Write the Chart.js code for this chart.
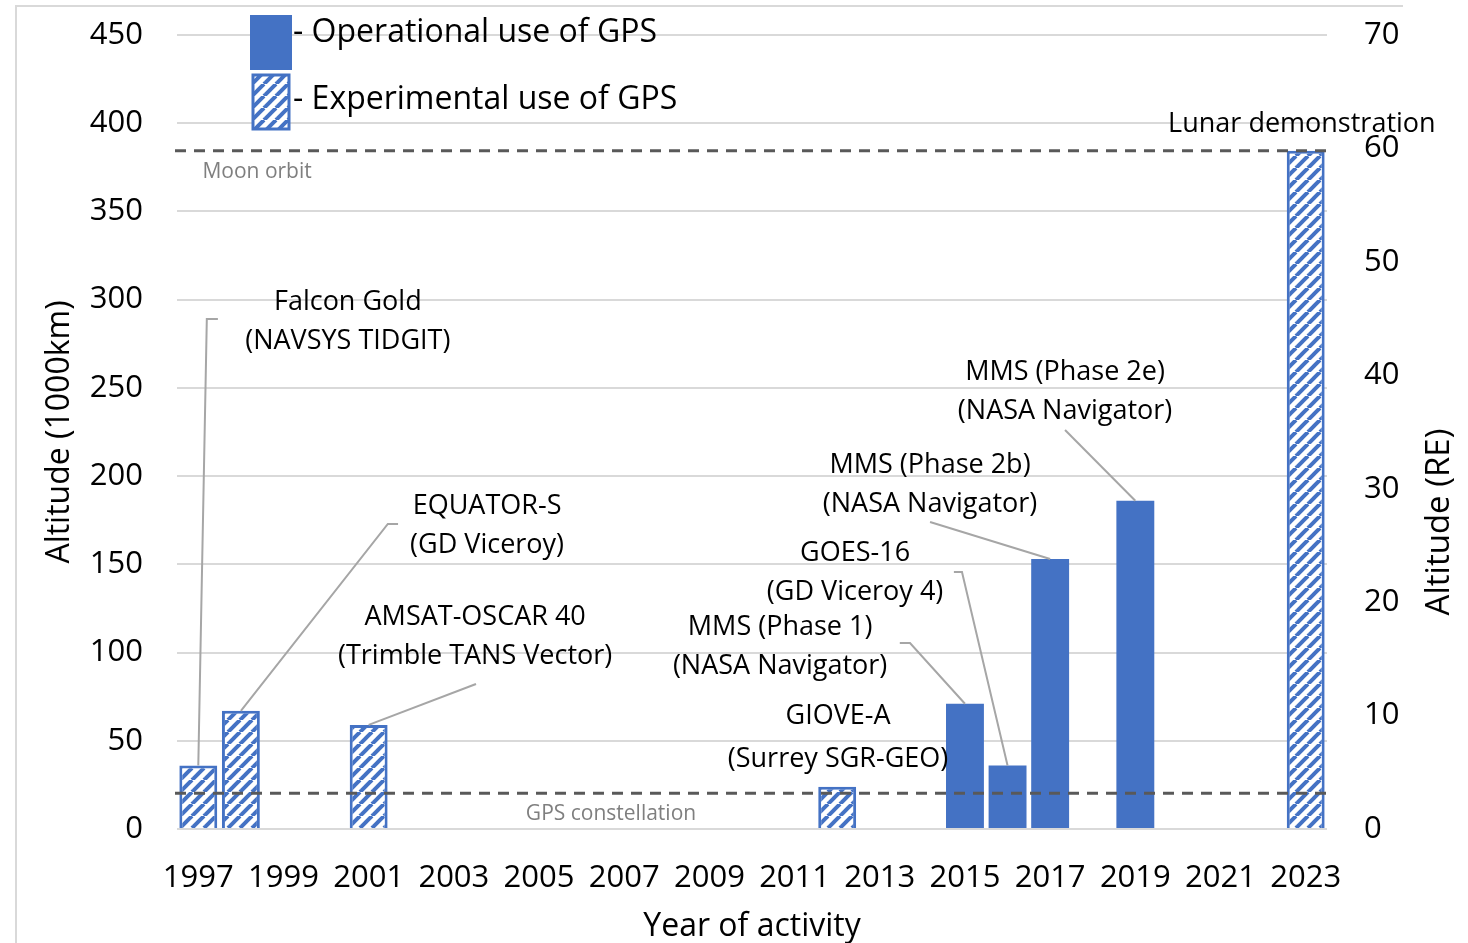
<!DOCTYPE html>
<html>
<head>
<meta charset="utf-8">
<script src="https://cdn.jsdelivr.net/npm/chart.js@4.4.1/dist/chart.umd.min.js"></script>
<style>
  body { margin: 0; background: #fff; }
  canvas { display: block; }
</style>
</head>
<body>
<canvas id="myChart" width="1468" height="943"></canvas>
<script>
const years = [
  '1997', '1998', '1999', '2000', '2001', '2002', '2003', '2004', '2005',
  '2006', '2007', '2008', '2009', '2010', '2011', '2012', '2013', '2014',
  '2015', '2016', '2017', '2018', '2019', '2020', '2021', '2022', '2023'
]

// altitude in 1000 km
const operational = [
  null, null, null, null, null, null, null, null, null,
  null, null, null, null, null, null, null, null, null,
  71, 36, 153, null, 186, null, null, null, null
]
const experimental = [
  36, 67, null, null, 59, null, null, null, null,
  null, null, null, null, null, null, 24, null, null,
  null, null, null, null, null, null, null, null, 384.4
]

const leftTicks = [0, 50, 100, 150, 200, 250, 300, 350, 400, 450]
const rightTicks = [0, 10, 20, 30, 40, 50, 60, 70]

const moonOrbit = 384.4
const gpsConstellation = 20.2

// labels: [category index, altitude]; leader goes through path then to the bar top
const notes = [
  { text: ['Falcon Gold', '(NAVSYS TIDGIT)'], at: [3.51, 298.7], path: [[0.46, 289], [0.2, 289]], bar: 0 },
  { text: ['EQUATOR-S', '(GD Viceroy)'], at: [6.78, 183.1], path: [[4.69, 172.9], [4.45, 172.9]], bar: 1 },
  { text: ['AMSAT-OSCAR 40', '(Trimble TANS Vector)'], at: [6.5, 120.2], path: [[6.52, 82.2]], bar: 4 },
  { text: ['GIOVE-A', '(Surrey SGR-GEO)'], at: [15.02, 64], gap: 43 },
  { text: ['MMS (Phase 1)', '(NASA Navigator)'], at: [13.66, 114.5], path: [[16.47, 105.4], [16.71, 105.4]], bar: 18 },
  { text: ['GOES-16', '(GD Viceroy 4)'], at: [15.42, 156.4], path: [[17.74, 145.7], [17.93, 145.7]], bar: 19 },
  { text: ['MMS (Phase 2b)', '(NASA Navigator)'], at: [17.18, 206.3], path: [[17.18, 174]], bar: 20 },
  { text: ['MMS (Phase 2e)', '(NASA Navigator)'], at: [20.35, 259], path: [[20.35, 226.1]], bar: 22 },
  { text: ['Lunar demonstration'], at: [25.91, 399.6] },
  { text: ['Moon orbit'], at: [1.38, 372.4], small: true },
  { text: ['GPS constellation'], at: [9.69, 8.5], small: true }
]

const blue = '#4472C4'
const font = "'Open Sans', sans-serif"

function makeHatch() {
  const s = 12
  const c = document.createElement('canvas')
  c.width = s
  c.height = s
  const g = c.getContext('2d')
  g.fillStyle = '#fff'
  g.fillRect(0, 0, s, s)
  g.strokeStyle = blue
  g.lineWidth = 4
  for (let k = -1; k <= 1; k++) {
    g.beginPath()
    g.moveTo(k * s, s)
    g.lineTo(k * s + s, 0)
    g.stroke()
  }
  return g.createPattern(c, 'repeat')
}

const ctx = document.getElementById('myChart')
const hatch = makeHatch()

// keep the plot top where the reference has it (no extra room for the top tick label)
function fixVertical(width) {
  return (s) => {
    s.width = width
    s.paddingTop = 0
    s.paddingBottom = 0
  }
}

const extras = {
  id: 'extras',
  beforeDraw(chart) {
    const c = chart.ctx
    // chart area frame (left and top edges only)
    c.save()
    c.strokeStyle = '#d9d9d9'
    c.lineWidth = 2
    c.beginPath()
    c.moveTo(16, 943)
    c.lineTo(16, 6)
    c.lineTo(1403, 6)
    c.stroke()
    c.restore()
  },
  afterDatasetsDraw(chart) {
    const c = chart.ctx
    const y = chart.scales.y
    const area = chart.chartArea
    c.save()
    c.strokeStyle = '#595959'
    c.lineWidth = 3
    c.setLineDash([11, 8])
    ;[moonOrbit, gpsConstellation].forEach((v) => {
      const py = y.getPixelForValue(v)
      c.beginPath()
      c.moveTo(area.left - 2, py)
      c.lineTo(area.right, py)
      c.stroke()
    })
    c.restore()
  },
  afterDraw(chart) {
    const c = chart.ctx
    const x = chart.scales.x
    const y = chart.scales.y
    const px = (i) => x.getPixelForValue(0) + i * (x.getPixelForValue(1) - x.getPixelForValue(0))

    c.save()
    notes.forEach((n) => {
      if (n.path) {
        const v = experimental[n.bar] ?? operational[n.bar]
        const pts = n.path.concat([[n.bar, v]])
        c.strokeStyle = '#a6a6a6'
        c.lineWidth = 2
        c.beginPath()
        pts.forEach((p, k) => {
          const X = px(p[0])
          const Y = y.getPixelForValue(p[1])
          if (k === 0) c.moveTo(X, Y)
          else c.lineTo(X, Y)
        })
        c.stroke()
      }
      c.fillStyle = n.small ? '#7f7f7f' : '#000'
      c.font = (n.small ? '21px ' : '27px ') + font
      c.textAlign = 'center'
      c.textBaseline = 'middle'
      const gap = n.gap || 39
      n.text.forEach((t, k) => {
        c.fillText(t, px(n.at[0]), y.getPixelForValue(n.at[1]) + k * gap)
      })
    })

    // right axis title, reading upwards
    c.translate(1440, 522)
    c.rotate(-Math.PI / 2)
    c.fillStyle = '#000'
    c.font = '33px ' + font
    c.fillText('Altitude (RE)', 0, 0)
    c.restore()

    // legend
    c.save()
    c.fillStyle = blue
    c.fillRect(250, 15, 42, 55)
    c.fillStyle = hatch
    c.fillRect(253, 75, 36, 54)
    c.strokeStyle = blue
    c.lineWidth = 3
    c.strokeRect(253, 75, 36, 54)
    c.fillStyle = '#000'
    c.font = '32px ' + font
    c.textAlign = 'left'
    c.textBaseline = 'middle'
    c.fillText('- Operational use of GPS', 293, 33)
    c.fillText('- Experimental use of GPS', 293, 100)
    c.restore()
  }
}

new Chart(ctx, {
  type: 'bar',
  data: {
    labels: years,
    datasets: [
      {
        label: 'Operational use of GPS',
        data: operational,
        backgroundColor: blue,
        borderWidth: 0,
        grouped: false,
        yAxisID: 'y'
      },
      {
        label: 'Experimental use of GPS',
        data: experimental,
        backgroundColor: hatch,
        borderColor: blue,
        borderWidth: 3,
        grouped: false,
        yAxisID: 'y'
      }
    ]
  },
  options: {
    responsive: false,
    animation: false,
    barPercentage: 0.89,
    categoryPercentage: 1,
    layout: { padding: { top: 35, left: 0, right: 0, bottom: 0 } },
    scales: {
      x: {
        grid: { display: false },
        border: { display: false },
        ticks: {
          autoSkip: false,
          maxRotation: 0,
          color: '#000',
          padding: 23,
          font: { family: font, size: 31 },
          callback: function (val, i) {
            return i % 2 === 0 ? this.getLabelForValue(val) : ''
          }
        },
        title: {
          display: true,
          text: 'Year of activity',
          color: '#000',
          font: { family: font, size: 32, lineHeight: 1 },
          padding: { top: 0, bottom: 0 }
        },
        afterFit: (s) => { s.height = 114 }
      },
      y: {
        position: 'left',
        min: leftTicks[0],
        max: leftTicks[leftTicks.length - 1],
        afterBuildTicks: (s) => { s.ticks = leftTicks.map((v) => ({ value: v })) },
        grid: { color: '#d9d9d9', lineWidth: 2, drawTicks: false },
        border: { display: false },
        ticks: { color: '#000', padding: 34, font: { family: font, size: 31 } },
        title: {
          display: true,
          text: 'Altitude (1000km)',
          color: '#000',
          font: { family: font, size: 32, lineHeight: 1.2 },
          padding: { top: 41, bottom: 0 }
        },
        afterFit: fixVertical(177)
      },
      y2: {
        position: 'right',
        min: rightTicks[0],
        max: rightTicks[rightTicks.length - 1],
        afterBuildTicks: (s) => { s.ticks = rightTicks.map((v) => ({ value: v })) },
        grid: { display: false, drawTicks: false },
        border: { display: false },
        ticks: { color: '#000', padding: 37, font: { family: font, size: 31 } },
        afterFit: fixVertical(141)
      }
    },
    plugins: {
      legend: { display: false },
      tooltip: { enabled: false }
    }
  },
  plugins: [extras]
})
</script>
</body>
</html>
